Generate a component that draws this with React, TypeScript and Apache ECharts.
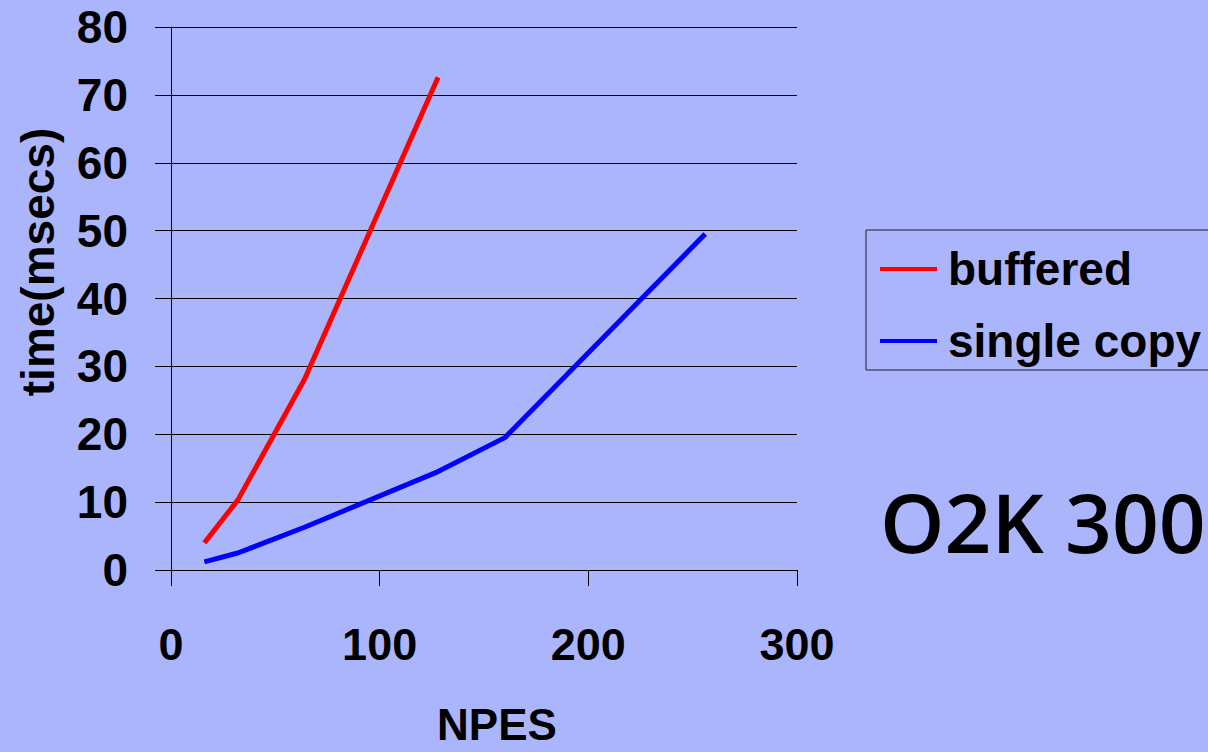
import React, { useEffect, useRef } from "react";
import * as echarts from "echarts";

const npesBuffered = [16, 32, 64, 128];
const timeBuffered = [4.0, 10.3, 28.1, 72.6];
const npesSingle = [16, 32, 64, 128, 160, 256];
const timeSingle = [1.2, 2.5, 6.3, 14.5, 19.5, 49.5];
const seriesNames = ["buffered", "single copy"];
const xTicks = { min: 0, max: 300, interval: 100 };
const yTicks = { min: 0, max: 80, interval: 10 };
const xName = "NPES";
const yName = "time(msecs)";
const sideNote = "O2K 300";

const FONT = "'Liberation Sans', Arial, Helvetica, sans-serif";

export default function App() {
  const ref = useRef<HTMLDivElement>(null);
  useEffect(() => {
    if (!ref.current) return;
    const chart = echarts.init(ref.current, null, { renderer: "svg" });
    const zip = (xs: number[], ys: number[]) => xs.map((x, i) => [x, ys[i]]);
    chart.setOption({
      animation: false,
      backgroundColor: "#abb5fc",
      textStyle: { fontFamily: FONT },
      grid: { left: 171, right: 411, top: 27, bottom: 182 },
      xAxis: {
        type: "value",
        min: xTicks.min,
        max: xTicks.max,
        interval: xTicks.interval,
        axisLine: { show: true, lineStyle: { color: "#000", width: 1 } },
        axisTick: { show: true, length: 16, lineStyle: { color: "#000" } },
        splitLine: { show: false },
        axisLabel: {
          margin: 52,
          color: "#000",
          fontSize: 45,
          fontWeight: "bold",
          fontFamily: FONT,
          lineHeight: 45,
        },
      },
      yAxis: {
        type: "value",
        min: yTicks.min,
        max: yTicks.max,
        interval: yTicks.interval,
        axisLine: { show: true, lineStyle: { color: "#000", width: 1 } },
        axisTick: { show: true, length: 16, lineStyle: { color: "#000" } },
        splitLine: { show: true, lineStyle: { color: "#000", width: 1 } },
        axisLabel: {
          margin: 43,
          color: "#000",
          fontSize: 46,
          fontWeight: "bold",
          fontFamily: FONT,
        },
      },
      legend: {
        left: 866,
        top: 230,
        orient: "vertical",
        backgroundColor: "#abb5fc",
        borderColor: "#222",
        borderWidth: 1,
        padding: [16, 80, 6, 14],
        itemGap: 26,
        itemWidth: 57,
        itemHeight: 4,
        icon: "rect",
        data: seriesNames,
        textStyle: {
          color: "#000",
          fontSize: 46,
          fontWeight: "bold",
          fontFamily: FONT,
          lineHeight: 46,
          padding: [0, 0, 0, 6],
        },
      },
      graphic: [
        {
          type: "text",
          x: 38,
          y: 262,
          rotation: Math.PI / 2,
          style: {
            text: yName,
            fill: "#000",
            font: `bold 46px ${FONT}`,
            align: "center",
            verticalAlign: "middle",
          },
        },
        {
          type: "text",
          x: 497,
          y: 724,
          style: {
            text: xName,
            fill: "#000",
            font: `bold 44px ${FONT}`,
            lineHeight: 40,
            align: "center",
            verticalAlign: "middle",
          },
        },
        {
          type: "text",
          x: 880,
          y: 521,
          style: {
            text: sideNote,
            fill: "#000",
            font: `600 82px 'Open Sans', ${FONT}`,
            align: "left",
            verticalAlign: "middle",
          },
        },
      ],
      series: [
        {
          name: seriesNames[0],
          type: "line",
          data: zip(npesBuffered, timeBuffered),
          symbol: "none",
          lineStyle: { color: "#ff0000", width: 5 },
          itemStyle: { color: "#ff0000" },
        },
        {
          name: seriesNames[1],
          type: "line",
          data: zip(npesSingle, timeSingle),
          symbol: "none",
          lineStyle: { color: "#0000ff", width: 5 },
          itemStyle: { color: "#0000ff" },
        },
      ],
    });
    return () => chart.dispose();
  }, []);
  return (
    <div
      ref={ref}
      style={{ position: "fixed", left: 0, top: 0, width: 1208, height: 752 }}
    />
  );
}
